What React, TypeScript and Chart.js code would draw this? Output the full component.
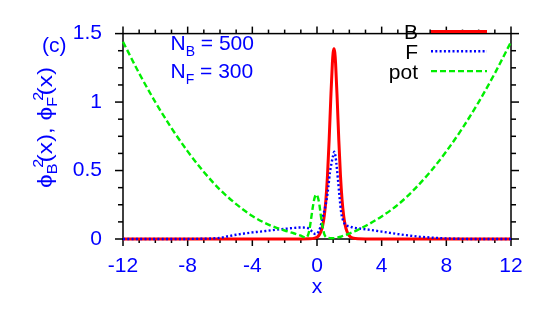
import React, { useEffect, useRef } from "react";
import { Chart, registerables } from "chart.js";

Chart.register(...registerables);

const FONT = "'Liberation Sans', Arial, Helvetica, sans-serif";
const FS = 21;
const BLUE = "#0000ff";
const RED = "#ff0000";
const GREEN = "#00ee00";

// B density
const bX = [-12, -8, -4, -2, -1, -0.45, -0.15, 0.05, 0.15, 0.25, 0.35, 0.45, 0.55, 0.65, 0.75, 0.85, 0.95, 1.0, 1.05, 1.1, 1.15, 1.25, 1.35, 1.45, 1.55, 1.65, 1.75, 1.85, 1.95, 2.05, 2.25, 2.55, 3, 4, 8, 12];
const bY = [0, 0, 0, 0, 0, 0.001, 0.006, 0.018, 0.032, 0.056, 0.098, 0.169, 0.286, 0.466, 0.719, 1.019, 1.282, 1.362, 1.39, 1.362, 1.282, 1.019, 0.719, 0.466, 0.286, 0.169, 0.098, 0.056, 0.032, 0.018, 0.006, 0.001, 0, 0, 0, 0];

// F density
const fX = [-12, -9, -8, -7.5, -7, -6.5, -6, -5.5, -5, -4.5, -4, -3.5, -3, -2.5, -2, -1.5, -1, -0.7, -0.5, -0.35, -0.2, -0.1, 0, 0.1, 0.2, 0.3, 0.4, 0.5, 0.6, 0.7, 0.8, 0.9, 1.0, 1.07, 1.15, 1.2, 1.3, 1.4, 1.5, 1.6, 1.75, 2, 2.25, 2.5, 3, 3.5, 4, 4.5, 5, 5.5, 6, 6.5, 7, 7.5, 8, 8.5, 9, 10, 12];
const fY = [0, 0, 0.0005, 0.001, 0.002, 0.004, 0.008, 0.02, 0.031, 0.04, 0.048, 0.054, 0.061, 0.068, 0.074, 0.08, 0.084, 0.083, 0.076, 0.06, 0.042, 0.036, 0.04, 0.055, 0.084, 0.13, 0.18, 0.23, 0.29, 0.38, 0.485, 0.555, 0.61, 0.637, 0.6, 0.55, 0.43, 0.3, 0.19, 0.14, 0.105, 0.093, 0.083, 0.078, 0.071, 0.063, 0.054, 0.045, 0.036, 0.028, 0.021, 0.015, 0.011, 0.007, 0.004, 0.002, 0.001, 0, 0];

// potential
const pX = [-12, -11, -10, -9, -8, -7, -6, -5, -4, -3, -2.5, -2, -1.5, -1, -0.8, -0.65, -0.55, -0.45, -0.35, -0.25, -0.15, -0.05, 0.05, 0.15, 0.25, 0.35, 0.45, 0.55, 0.7, 1, 1.5, 2, 2.5, 3, 4, 5, 6, 7, 8, 9, 10, 11, 12];
const pY = [1.44, 1.21, 1.0, 0.81, 0.64, 0.49, 0.36, 0.255, 0.168, 0.105, 0.082, 0.062, 0.044, 0.024, 0.014, 0.012, 0.03, 0.08, 0.16, 0.24, 0.3, 0.325, 0.305, 0.25, 0.16, 0.09, 0.035, 0.015, 0.008, 0.006, 0.018, 0.04, 0.065, 0.095, 0.165, 0.25, 0.36, 0.49, 0.64, 0.81, 1.0, 1.21, 1.44];

const seriesLabels = ["B", "F", "pot"];

const toPts = (xs: number[], ys: number[]) => xs.map((x, i) => ({ x, y: ys[i] }));

const decor = {
  id: "decor",
  beforeDatasetsDraw(chart: any) {
    const { ctx, chartArea: a, scales } = chart;
    ctx.save();
    ctx.strokeStyle = "#000";
    ctx.lineWidth = 1.5;
    ctx.strokeRect(a.left, a.top, a.right - a.left, a.bottom - a.top);
    const seg = (x1: number, y1: number, x2: number, y2: number) => {
      ctx.beginPath();
      ctx.moveTo(x1, y1);
      ctx.lineTo(x2, y2);
      ctx.stroke();
    };
    for (let v = -12; v <= 12; v++) {
      const px = scales.x.getPixelForValue(v);
      const len = v % 4 === 0 ? 7 : 4;
      seg(px, a.bottom, px, a.bottom + len);
      seg(px, a.top, px, a.top - len);
    }
    for (let i = 0; i <= 12; i++) {
      const py = scales.y.getPixelForValue(i * 0.125);
      const len = i % 4 === 0 ? 8 : 5;
      seg(a.left - len, py, a.left, py);
      seg(a.right, py, a.right + len, py);
    }
    ctx.restore();
  },
  afterDraw(chart: any) {
    const { ctx } = chart;
    ctx.save();
    // legend
    chart.data.datasets.forEach((ds: any, i: number) => {
      const rowY = 31.5 + i * 19.8;
      ctx.fillStyle = "#000";
      ctx.font = `${FS}px ${FONT}`;
      ctx.textAlign = "right";
      ctx.textBaseline = "alphabetic";
      ctx.fillText(ds.label, 418, rowY + 7.5);
      ctx.strokeStyle = ds.borderColor;
      ctx.lineWidth = ds.borderWidth;
      ctx.setLineDash(ds.borderDash || []);
      ctx.beginPath();
      ctx.moveTo(431, rowY);
      ctx.lineTo(487, rowY);
      ctx.stroke();
      ctx.setLineDash([]);
    });
    // annotations
    ctx.fillStyle = BLUE;
    ctx.textAlign = "left";
    ctx.font = `${FS}px ${FONT}`;
    ctx.fillText("(c)", 42, 52);
    const sub = (base: string, s: string, rest: string, x: number, y: number) => {
      ctx.font = `${FS}px ${FONT}`;
      ctx.fillText(base, x, y);
      let cx = x + ctx.measureText(base).width;
      ctx.font = `14px ${FONT}`;
      ctx.fillText(s, cx, y + 6);
      cx += ctx.measureText(s).width;
      ctx.font = `${FS}px ${FONT}`;
      ctx.fillText(rest, cx, y);
    };
    sub("N", "B", " = 500", 170.5, 50);
    sub("N", "F", " = 300", 170.5, 78);

    // y title: phi_B^2(x), phi_F^2(x) with sub/superscripts
    type Part = { t: string; s: number; dy: number; adv: boolean };
    const parts: Part[] = [
      { t: "\u03d5", s: FS, dy: 0, adv: true },
      { t: "B", s: 14, dy: 5, adv: false },
      { t: "2", s: 14, dy: -9, adv: true },
      { t: "(x), ", s: FS, dy: 0, adv: true },
      { t: "\u03d5", s: FS, dy: 0, adv: true },
      { t: "F", s: 14, dy: 5, adv: false },
      { t: "2", s: 14, dy: -9, adv: true },
      { t: "(x)", s: FS, dy: 0, adv: true },
    ];
    const wOf = (p: Part) => {
      ctx.font = `${p.s}px ${FONT}`;
      return ctx.measureText(p.t).width;
    };
    // compute positions: non-advancing parts share start with the next part
    const pos: number[] = [];
    let cur = 0;
    let pendingMax = 0;
    parts.forEach((p) => {
      pos.push(cur);
      const w = wOf(p);
      if (!p.adv) {
        pendingMax = Math.max(pendingMax, w);
      } else {
        cur += Math.max(w, pendingMax * 0.6 + w * 0.6);
        pendingMax = 0;
      }
    });
    // subscript stacked, superscript shifted a bit after it
    const total = cur;
    const target = 121;
    ctx.translate(52, 127.5);
    ctx.rotate(-Math.PI / 2);
    ctx.scale(target / total, 1);
    parts.forEach((p, i) => {
      ctx.font = `${p.s}px ${FONT}`;
      let x = pos[i];
      if (p.adv && i > 0 && !parts[i - 1].adv) {
        x = pos[i - 1] + wOf(parts[i - 1]) * 0.6;
      }
      ctx.fillText(p.t, -total / 2 + x, p.dy);
    });
    ctx.restore();
  },
};

export default function App() {
  const ref = useRef<HTMLCanvasElement | null>(null);
  useEffect(() => {
    if (!ref.current) return;
    const chart = new Chart(ref.current, {
      type: "line",
      data: {
        datasets: [
          {
            label: seriesLabels[0],
            data: toPts(bX, bY),
            borderColor: RED,
            borderWidth: 3,
            pointRadius: 0,
            cubicInterpolationMode: "monotone",
            clip: false,
            order: 3,
          },
          {
            label: seriesLabels[1],
            data: toPts(fX, fY),
            borderColor: BLUE,
            borderWidth: 2.4,
            borderDash: [2, 2.3],
            pointRadius: 0,
            cubicInterpolationMode: "monotone",
            clip: false,
            order: 2,
          },
          {
            label: seriesLabels[2],
            data: toPts(pX, pY),
            borderColor: GREEN,
            borderWidth: 2.4,
            borderDash: [6, 3],
            pointRadius: 0,
            cubicInterpolationMode: "monotone",
            clip: false,
            order: 1,
          },
        ] as any,
      },
      options: {
        animation: false,
        responsive: false,
        maintainAspectRatio: false,
        layout: { padding: { top: 15, right: 29, left: 0, bottom: 0 } },
        plugins: {
          legend: { display: false },
          tooltip: { enabled: false },
        },
        scales: {
          x: {
            type: "linear",
            min: -12,
            max: 12,
            afterFit: (s: any) => {
              s.height = 70;
            },
            grid: { display: false, drawTicks: false },
            border: { display: false },
            ticks: {
              stepSize: 4,
              color: BLUE,
              font: { family: FONT, size: FS },
              padding: 15,
              maxRotation: 0,
              autoSkip: false,
            },
            title: {
              display: true,
              text: "x",
              color: BLUE,
              font: { family: FONT, size: FS },
              padding: { top: 0, bottom: 9 },
            },
          },
          y: {
            type: "linear",
            min: 0,
            max: 1.5,
            afterFit: (s: any) => {
              s.width = 123;
            },
            grid: { display: false, drawTicks: false },
            border: { display: false },
            ticks: {
              stepSize: 0.5,
              color: BLUE,
              font: { family: FONT, size: FS },
              padding: 21,
              callback: (v: any) => String(v),
            },
          },
        },
      } as any,
      plugins: [decor],
    });
    return () => chart.destroy();
  }, []);
  return (
    <div style={{ position: "absolute", left: 0, top: 0, width: 540, height: 309, background: "#fff" }}>
      <canvas ref={ref} width={540} height={309} style={{ display: "block", width: 540, height: 309 }} />
    </div>
  );
}
